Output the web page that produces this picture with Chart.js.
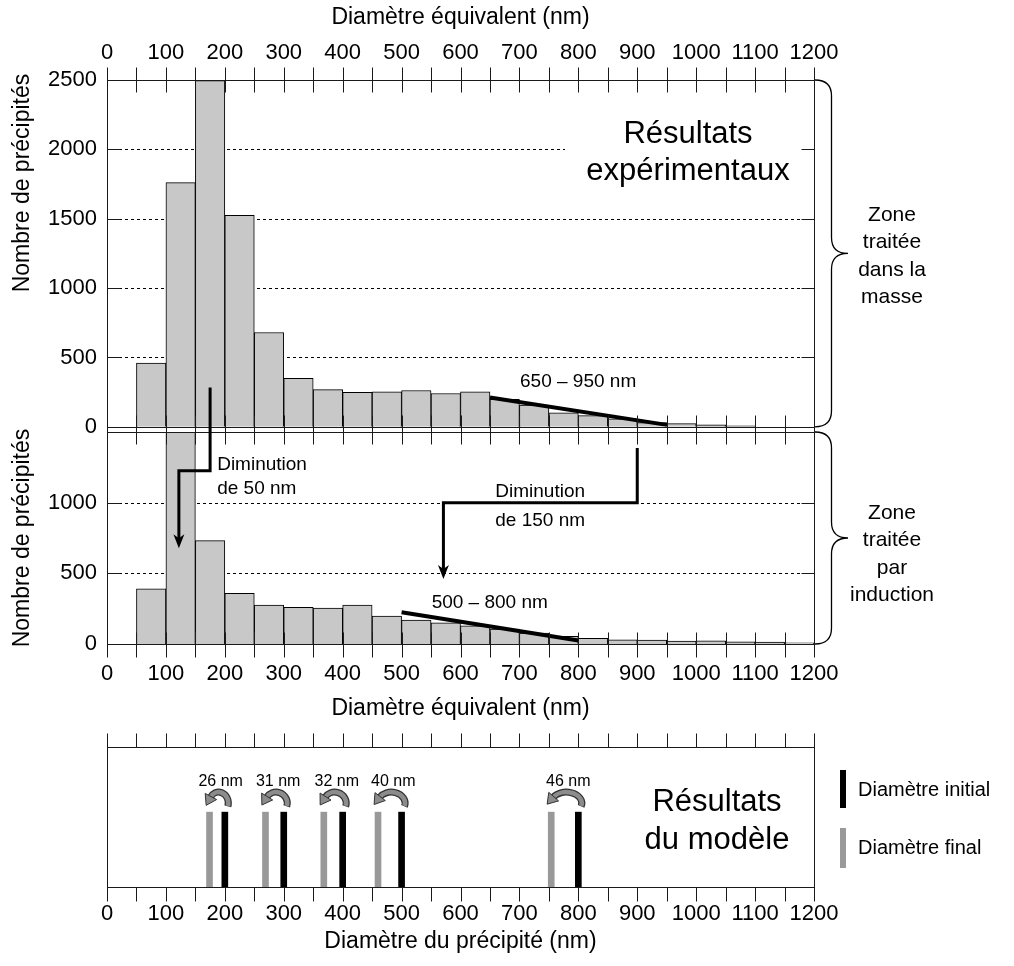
<!DOCTYPE html>
<html lang="fr">
<head>
<meta charset="utf-8">
<title>Distribution des précipités</title>
<script src="https://cdn.jsdelivr.net/npm/chart.js@4.4.1/dist/chart.umd.min.js"></script>
<style>
  html, body { margin: 0; padding: 0; background: #fff; }
  #wrap { position: relative; width: 1014px; height: 966px; overflow: hidden; }
  #wrap canvas { position: absolute; left: 0; }
</style>
</head>
<body>
<div id="wrap">
  <canvas id="massChart" width="1014" height="450" style="top:0"></canvas>
  <canvas id="inductionChart" width="1014" height="345" style="top:380px"></canvas>
  <canvas id="modelChart" width="1014" height="241" style="top:725px"></canvas>
</div>
<script>
// Histogram bins (50 nm wide), given by their centre
const binCentres = [25, 75, 125, 175, 225, 275, 325, 375, 425, 475, 525, 575,
                    625, 675, 725, 775, 825, 875, 925, 975, 1025, 1075, 1125, 1175];

// Zone traitée dans la masse
const massCounts = [0, 460, 1760, 2495, 1525, 680, 350, 268, 248, 252, 262, 240,
                    252, 198, 156, 100, 80, 57, 30, 23, 14, 7, 0, 0];
// Zone traitée par induction (bin 100-150 goes off the top of the panel)
const inductionCounts = [0, 391, 1560, 731, 358, 276, 259, 255, 276, 198, 170, 150,
                         129, 106, 77, 54, 40, 30, 28, 21, 23, 16, 14, 8];

// Trend lines drawn over the tails
const massTrendX = [650, 950];
const massTrendY = [211, 14];
const inductionTrendX = [500, 800];
const inductionTrendY = [224, 25];

// Arrows "Diminution" (nm / count on the induction panel scale)
const shift50X = [175, 175, 122, 122];
const shift50Y = [1814, 1226, 1226, 678];
const shift150X = [900, 900, 571, 571];
const shift150Y = [1387, 1000, 1000, 460];

// Model results
const initialDiam = [200, 300, 400, 500, 800];
const finalDiam = [174, 269, 368, 460, 754];
const shrinkLabels = ['26 nm', '31 nm', '32 nm', '40 nm', '46 nm'];

const massTicks = [0, 500, 1000, 1500, 2000, 2500];
const inductionTicks = [0, 500, 1000];

const FONT = "'Liberation Sans', Arial, Helvetica, sans-serif";
const NARROW = "'Liberation Sans Narrow', 'Arial Narrow', " + FONT;
const BAR_FILL = '#c8c8c8';

function pts(xs, ys) {
  return xs.map((v, i) => ({ x: v, y: ys[i] }));
}

function text(ctx, str, x, y, size, align, base, font) {
  ctx.save();
  ctx.fillStyle = '#000';
  ctx.font = size + 'px ' + (font || FONT);
  ctx.textAlign = align || 'left';
  ctx.textBaseline = base || 'alphabetic';
  ctx.fillText(str, x, y);
  ctx.restore();
}

function yTitle(ctx, str, x, y) {
  ctx.save();
  ctx.translate(x, y);
  ctx.rotate(-Math.PI / 2);
  text(ctx, str, 0, 0, 23, 'center', 'middle');
  ctx.restore();
}

function zoneLabel(ctx, lines, x, yMid) {
  const step = 27.5;
  lines.forEach((s, i) => {
    text(ctx, s, x, yMid + (i - (lines.length - 1) / 2) * step, 21, 'center', 'middle');
  });
}

function dashedGrid(chart, values) {
  const { ctx, chartArea: a, scales: { y } } = chart;
  ctx.save();
  ctx.strokeStyle = '#000';
  ctx.lineWidth = 1;
  ctx.setLineDash([3, 3]);
  values.forEach(v => {
    const py = Math.round(y.getPixelForValue(v)) + 0.5;
    ctx.beginPath();
    ctx.moveTo(a.left, py);
    ctx.lineTo(a.right, py);
    ctx.stroke();
  });
  ctx.restore();
}

function drawFrame(chart, o) {
  const { ctx, chartArea: a, scales: { x, y } } = chart;
  const px = v => Math.round(v) + 0.5;
  const L = px(a.left), R = px(a.right), T = px(a.top), B = px(a.bottom);
  ctx.save();
  ctx.strokeStyle = '#1a1a1a';
  ctx.lineWidth = 1;
  ctx.strokeRect(L, T, R - L, B - T);
  ctx.beginPath();
  for (let v = 0; v <= 1200; v += 50) {
    const X = px(x.getPixelForValue(v));
    if (o.top) { ctx.moveTo(X, T - o.top[0]); ctx.lineTo(X, T + o.top[1]); }
    if (o.bottom) { ctx.moveTo(X, B - o.bottom[0]); ctx.lineTo(X, B + o.bottom[1]); }
  }
  (o.yTicks || []).forEach(v => {
    const Y = px(y.getPixelForValue(v));
    ctx.moveTo(L, Y); ctx.lineTo(L + 13, Y);
    ctx.moveTo(R, Y); ctx.lineTo(R - 13, Y);
  });
  ctx.stroke();
  ctx.restore();
}

function drawBrace(ctx, x, y0, y1, w) {
  const ym = (y0 + y1) / 2, h = w / 2, r = 16;
  ctx.save();
  ctx.strokeStyle = '#000';
  ctx.lineWidth = 1.3;
  ctx.beginPath();
  ctx.moveTo(x, y0);
  ctx.quadraticCurveTo(x + h, y0, x + h, y0 + r);
  ctx.lineTo(x + h, ym - r);
  ctx.quadraticCurveTo(x + h, ym, x + w, ym);
  ctx.moveTo(x + w, ym);
  ctx.quadraticCurveTo(x + h, ym, x + h, ym + r);
  ctx.lineTo(x + h, y1 - r);
  ctx.quadraticCurveTo(x + h, y1, x, y1);
  ctx.stroke();
  ctx.restore();
}

function elbowArrow(chart, xs, ys) {
  const { ctx, scales: { x, y } } = chart;
  const X = xs.map(v => x.getPixelForValue(v));
  const Y = ys.map(v => y.getPixelForValue(v));
  const n = X.length;
  ctx.save();
  ctx.strokeStyle = '#000';
  ctx.fillStyle = '#000';
  ctx.lineWidth = 3;
  ctx.beginPath();
  ctx.moveTo(X[0], Y[0]);
  for (let i = 1; i < n - 1; i++) ctx.lineTo(X[i], Y[i]);
  ctx.lineTo(X[n - 1], Y[n - 1] - 9);
  ctx.stroke();
  const tx = X[n - 1], ty = Y[n - 1];
  ctx.beginPath();
  ctx.moveTo(tx, ty);
  ctx.lineTo(tx - 5.5, ty - 14);
  ctx.lineTo(tx, ty - 10);
  ctx.lineTo(tx + 5.5, ty - 14);
  ctx.closePath();
  ctx.fill();
  ctx.restore();
}

function curvedArrow(ctx, xFrom, xTo, yBase) {
  const cx = (xFrom + xTo) / 2 + 1.5;
  const rx = (xFrom - xTo) / 2 + 2;
  const ry = 11;
  const cy = yBase - 9;
  const a0 = 0.3, a1 = -Math.PI + 0.55;
  ctx.save();
  ctx.beginPath();
  ctx.ellipse(cx, cy, rx, ry, 0, a0, a1, true);
  ctx.strokeStyle = '#333';
  ctx.lineWidth = 7;
  ctx.stroke();
  ctx.beginPath();
  ctx.ellipse(cx, cy, rx, ry, 0, a0 - 0.04, a1 + 0.04, true);
  ctx.strokeStyle = '#8c8c8c';
  ctx.lineWidth = 4.5;
  ctx.stroke();
  const px = cx + rx * Math.cos(a1), py = cy + ry * Math.sin(a1);
  let dx = rx * Math.sin(a1), dy = -ry * Math.cos(a1);
  const len = Math.hypot(dx, dy);
  dx /= len; dy /= len;
  const nx = -dy, ny = dx;
  ctx.beginPath();
  ctx.moveTo(px + dx * 9, py + dy * 9);
  ctx.lineTo(px + nx * 6.5 - dx, py + ny * 6.5 - dy);
  ctx.lineTo(px - nx * 6.5 - dx, py - ny * 6.5 - dy);
  ctx.closePath();
  ctx.fillStyle = '#8c8c8c';
  ctx.fill();
  ctx.strokeStyle = '#333';
  ctx.lineWidth = 1;
  ctx.stroke();
  ctx.restore();
  return cx;
}

function tickFont() { return { family: FONT, size: 22 }; }
function titleFont() { return { family: FONT, size: 23 }; }
const plainNumber = v => String(v);

// ---------- top panel: zone traitée dans la masse ----------
const massDecor = {
  id: 'massDecor',
  beforeDatasetsDraw(chart) {
    const { ctx, chartArea: a } = chart;
    dashedGrid(chart, [500, 1000, 1500, 2000]);
    ctx.save();
    ctx.fillStyle = '#fff';
    ctx.fillRect(a.right - 249, a.top + 22, 235, 92);
    ctx.restore();
  },
  afterDraw(chart) {
    const { ctx, chartArea: a, scales: { x, y } } = chart;
    drawFrame(chart, { top: [13, 12], bottom: [12, 12], yTicks: [500, 1000, 1500, 2000] });
    yTitle(ctx, 'Nombre de précipités', 23, a.top + 103);
    text(ctx, 'Résultats', a.right - 126, a.top + 63, 31, 'center');
    text(ctx, 'expérimentaux', a.right - 126, a.top + 100, 31, 'center');
    text(ctx, '650 – 950 nm', x.getPixelForValue(701), y.getPixelForValue(286), 19);
    drawBrace(ctx, a.right + 1, a.top, a.bottom, 33);
    zoneLabel(ctx, ['Zone', 'traitée', 'dans la', 'masse'], a.right + 78, (a.top + a.bottom) / 2 + 3);
  }
};

new Chart(document.getElementById('massChart'), {
  type: 'bar',
  data: {
    datasets: [
      {
        type: 'line',
        data: pts(massTrendX, massTrendY),
        borderColor: '#000',
        borderWidth: 4,
        pointRadius: 0,
        order: 0
      },
      {
        data: pts(binCentres, massCounts),
        backgroundColor: BAR_FILL,
        borderColor: '#000',
        borderWidth: 1,
        barPercentage: 1,
        categoryPercentage: 1,
        order: 1
      }
    ]
  },
  options: {
    responsive: false,
    animation: false,
    events: [],
    layout: { padding: { left: 0, right: 200, top: 0, bottom: 18 } },
    plugins: { legend: { display: false }, tooltip: { enabled: false } },
    scales: {
      x: {
        type: 'linear', position: 'top', min: 0, max: 1200, offset: false,
        grid: { display: false, drawTicks: false }, border: { display: false },
        ticks: { stepSize: 100, padding: 14, color: '#000', font: tickFont(), maxRotation: 0, autoSkip: false, callback: plainNumber },
        title: { display: true, text: 'Diamètre équivalent (nm)', color: '#000', font: titleFont(), padding: { top: 4, bottom: 0 } },
        afterFit: s => { s.height = 80; }
      },
      y: {
        min: 0, max: 2500,
        grid: { display: false, drawTicks: false }, border: { display: false },
        afterBuildTicks: s => { s.ticks = massTicks.map(v => ({ value: v })); },
        ticks: { padding: 10, color: '#000', font: tickFont(), callback: plainNumber },
        afterFit: s => { s.width = 107; }
      }
    }
  },
  plugins: [massDecor]
});

// ---------- middle panel: zone traitée par induction ----------
const inductionDecor = {
  id: 'inductionDecor',
  beforeDatasetsDraw(chart) {
    dashedGrid(chart, [500, 1000]);
  },
  afterDraw(chart) {
    const { ctx, chartArea: a, scales: { x, y } } = chart;
    drawFrame(chart, { top: [12, 12], bottom: [12, 13], yTicks: [500, 1000] });
    elbowArrow(chart, shift50X, shift50Y);
    elbowArrow(chart, shift150X, shift150Y);
    text(ctx, 'Diminution', x.getPixelForValue(187), y.getPixelForValue(1234), 19);
    text(ctx, 'de 50 nm', x.getPixelForValue(187), y.getPixelForValue(1064), 19);
    text(ctx, 'Diminution', x.getPixelForValue(659), y.getPixelForValue(1040), 19);
    text(ctx, 'de 150 nm', x.getPixelForValue(659), y.getPixelForValue(837), 19);
    text(ctx, '500 – 800 nm', x.getPixelForValue(551), y.getPixelForValue(255), 19);
    // drawn by hand: the title is longer than the panel is tall
    yTitle(ctx, 'Nombre de précipités', 23, (a.top + a.bottom) / 2);
    drawBrace(ctx, a.right + 1, a.top, a.bottom, 33);
    zoneLabel(ctx, ['Zone', 'traitée', 'par', 'induction'], a.right + 78, (a.top + a.bottom) / 2 + 16);
  }
};

new Chart(document.getElementById('inductionChart'), {
  type: 'bar',
  data: {
    datasets: [
      {
        type: 'line',
        data: pts(inductionTrendX, inductionTrendY),
        borderColor: '#000',
        borderWidth: 4,
        pointRadius: 0,
        order: 0
      },
      {
        data: pts(binCentres, inductionCounts),
        backgroundColor: BAR_FILL,
        borderColor: '#000',
        borderWidth: 1,
        barPercentage: 1,
        categoryPercentage: 1,
        clip: 0,
        order: 1
      }
    ]
  },
  options: {
    responsive: false,
    animation: false,
    events: [],
    layout: { padding: { left: 0, right: 200, top: 52, bottom: 0 } },
    plugins: { legend: { display: false }, tooltip: { enabled: false } },
    scales: {
      x: {
        type: 'linear', position: 'bottom', min: 0, max: 1200, offset: false,
        grid: { display: false, drawTicks: false }, border: { display: false },
        ticks: { stepSize: 100, padding: 17, color: '#000', font: tickFont(), maxRotation: 0, autoSkip: false, callback: plainNumber },
        title: { display: true, text: 'Diamètre équivalent (nm)', color: '#000', font: titleFont(), padding: { top: 0, bottom: 3 } },
        afterFit: s => { s.height = 81; }
      },
      y: {
        min: 0, max: 1500,
        grid: { display: false, drawTicks: false }, border: { display: false },
        afterBuildTicks: s => { s.ticks = inductionTicks.map(v => ({ value: v })); },
        ticks: { padding: 10, color: '#000', font: tickFont(), callback: plainNumber },
        afterFit: s => { s.width = 107; }
      }
    }
  },
  plugins: [inductionDecor]
});

// ---------- bottom panel: model ----------
const modelDecor = {
  id: 'modelDecor',
  afterDraw(chart) {
    const { ctx, chartArea: a, scales: { x, y } } = chart;
    drawFrame(chart, { top: [14, 0], bottom: [0, 14] });
    const yTop = y.getPixelForValue(1);
    initialDiam.forEach((d, i) => {
      const cx = curvedArrow(ctx, x.getPixelForValue(d), x.getPixelForValue(finalDiam[i]), yTop);
      text(ctx, shrinkLabels[i], cx + 2, yTop - 26, 16, 'center', 'alphabetic', NARROW);
    });
    text(ctx, 'Résultats', a.right - 97, a.top + 64, 31, 'center');
    text(ctx, 'du modèle', a.right - 97, a.top + 102, 31, 'center');
    ctx.save();
    ctx.fillStyle = '#000';
    ctx.fillRect(a.right + 26, a.top + 23, 6, 38);
    ctx.fillStyle = '#999';
    ctx.fillRect(a.right + 26, a.top + 81, 6, 40);
    ctx.restore();
    text(ctx, 'Diamètre initial', a.right + 44, a.top + 43, 20, 'left', 'middle');
    text(ctx, 'Diamètre final', a.right + 44, a.top + 101, 20, 'left', 'middle');
  }
};

new Chart(document.getElementById('modelChart'), {
  type: 'bar',
  data: {
    datasets: [
      {
        label: 'Diamètre initial',
        data: initialDiam.map(d => ({ x: d, y: 1 })),
        backgroundColor: '#000',
        borderWidth: 0,
        barThickness: 6,
        grouped: false
      },
      {
        label: 'Diamètre final',
        data: finalDiam.map(d => ({ x: d, y: 1 })),
        backgroundColor: '#999',
        borderWidth: 0,
        barThickness: 6,
        grouped: false
      }
    ]
  },
  options: {
    responsive: false,
    animation: false,
    events: [],
    layout: { padding: { left: 107, right: 200, top: 22, bottom: 0 } },
    plugins: { legend: { display: false }, tooltip: { enabled: false } },
    scales: {
      x: {
        type: 'linear', position: 'bottom', min: 0, max: 1200, offset: false,
        grid: { display: false, drawTicks: false }, border: { display: false },
        ticks: { stepSize: 100, padding: 14, color: '#000', font: tickFont(), maxRotation: 0, autoSkip: false, callback: plainNumber },
        title: { display: true, text: 'Diamètre du précipité (nm)', color: '#000', font: titleFont(), padding: { top: 0, bottom: 11 } },
        afterFit: s => { s.height = 79; }
      },
      y: { display: false, min: 0, max: 1.87 }
    }
  },
  plugins: [modelDecor]
});
</script>
</body>
</html>
